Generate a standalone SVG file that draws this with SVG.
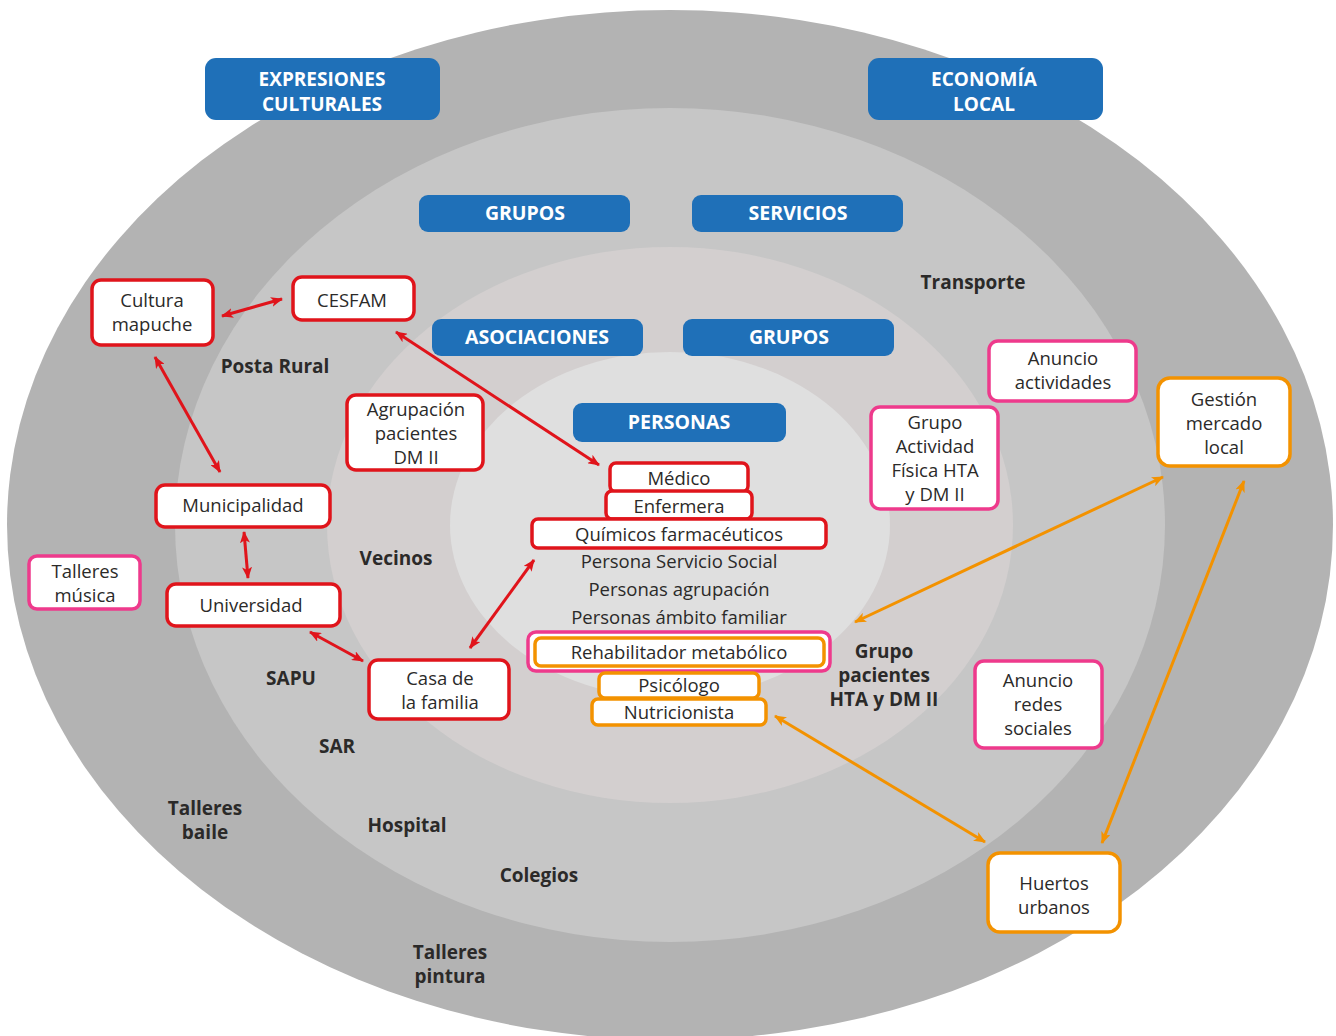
<svg xmlns="http://www.w3.org/2000/svg" width="1336" height="1036" viewBox="0 0 1336 1036">
<defs>
<style>
.t{font-family:"Open Sans","Noto Sans",sans-serif;font-size:18.5px;fill:#2b2a29;text-anchor:middle}
.b{font-family:"Open Sans","Noto Sans",sans-serif;font-size:19px;font-weight:bold;fill:#2b2a29;text-anchor:middle}
.h{font-family:"Open Sans","Noto Sans",sans-serif;font-size:19.5px;font-weight:bold;fill:#ffffff;text-anchor:middle}
.h2{font-family:"Open Sans","Noto Sans",sans-serif;font-size:19px;font-weight:bold;fill:#ffffff;text-anchor:middle}
.blue{fill:#1f70b8}
.red{fill:#fff;stroke:#e0141b;stroke-width:3.5}
.pink{fill:#fff;stroke:#ee3a8c;stroke-width:3.5}
.org{fill:#fff;stroke:#f39200;stroke-width:3.5}
.ar{stroke:#e0141b;stroke-width:3;fill:none;marker-start:url(#mr);marker-end:url(#mr)}
.ao{stroke:#f39200;stroke-width:3;fill:none;marker-start:url(#mo);marker-end:url(#mo)}
</style>
<marker id="mr" viewBox="0 0 12 10" refX="11" refY="5" markerWidth="12" markerHeight="10" markerUnits="userSpaceOnUse" orient="auto-start-reverse"><path d="M0,0 L12,5 L0,10 L3,5 Z" fill="#e0141b"/></marker>
<marker id="mo" viewBox="0 0 12 10" refX="11" refY="5" markerWidth="12" markerHeight="10" markerUnits="userSpaceOnUse" orient="auto-start-reverse"><path d="M0,0 L12,5 L0,10 L3,5 Z" fill="#f39200"/></marker>
</defs>
<rect width="1336" height="1036" fill="#ffffff"/>
<g id="rings">
<ellipse cx="670" cy="525" rx="663" ry="515" fill="#b3b3b3"/>
<ellipse cx="670" cy="525" rx="495" ry="417" fill="#c6c6c6"/>
<ellipse cx="670" cy="525" rx="343" ry="278" fill="#d3cfcf"/>
<ellipse cx="670" cy="525" rx="220" ry="173" fill="#dfdfdf"/>
</g>
<g id="headers">
<g id="h-expresiones"><rect class="blue" x="205" y="58" width="235" height="62" rx="11"/><text class="h2" x="322" y="86">EXPRESIONES</text><text class="h2" x="322" y="111">CULTURALES</text></g>
<g id="h-economia"><rect class="blue" x="868" y="58" width="235" height="62" rx="11"/><text class="h2" x="984" y="86">ECONOMÍA</text><text class="h2" x="984" y="111">LOCAL</text></g>
<g id="h-grupos1"><rect class="blue" x="419" y="195" width="211" height="37" rx="9"/><text class="h" x="525" y="220">GRUPOS</text></g>
<g id="h-servicios"><rect class="blue" x="692" y="195" width="211" height="37" rx="9"/><text class="h" x="798" y="220">SERVICIOS</text></g>
<g id="h-asociaciones"><rect class="blue" x="432" y="319" width="211" height="37" rx="9"/><text class="h" x="537" y="344">ASOCIACIONES</text></g>
<g id="h-grupos2"><rect class="blue" x="683" y="319" width="211" height="37" rx="9"/><text class="h" x="789" y="344">GRUPOS</text></g>
<g id="h-personas"><rect class="blue" x="573" y="403" width="213" height="39" rx="9"/><text class="h" x="679" y="429">PERSONAS</text></g>
</g>
<g id="labels">
<text class="b" x="973" y="289">Transporte</text>
<text class="b" x="275" y="373">Posta Rural</text>
<text class="b" x="396" y="565">Vecinos</text>
<text class="b" x="291" y="685">SAPU</text>
<text class="b" x="337" y="753">SAR</text>
<text class="b" x="205" y="815">Talleres</text><text class="b" x="205" y="839">baile</text>
<text class="b" x="407" y="832">Hospital</text>
<text class="b" x="539" y="882">Colegios</text>
<text class="b" x="450" y="959">Talleres</text><text class="b" x="450" y="983">pintura</text>
<text class="b" x="884" y="658">Grupo</text><text class="b" x="884" y="682">pacientes</text><text class="b" x="884" y="706">HTA y DM II</text>
<text class="t" x="679" y="568">Persona Servicio Social</text>
<text class="t" x="679" y="596">Personas agrupación</text>
<text class="t" x="679" y="624">Personas ámbito familiar</text>
</g>
<g id="connectors">
<line class="ar" x1="222" y1="316" x2="282" y2="299"/>
<line class="ar" x1="155" y1="357" x2="220" y2="472"/>
<line class="ar" x1="244" y1="532" x2="248" y2="578"/>
<line class="ar" x1="310" y1="632" x2="363" y2="661"/>
<line class="ar" x1="396" y1="332" x2="599" y2="465"/>
<line class="ar" x1="470" y1="648" x2="534" y2="560"/>
<line class="ao" x1="1163" y1="477" x2="855" y2="622"/>
<line class="ao" x1="1244" y1="481" x2="1102" y2="843"/>
<line class="ao" x1="775" y1="716" x2="985" y2="842"/>
</g>
<g id="n-cultura"><rect class="red" x="92" y="280" width="121" height="65" rx="9"/><text class="t" x="152" y="307">Cultura</text><text class="t" x="152" y="331">mapuche</text></g>
<g id="n-cesfam"><rect class="red" x="293" y="277" width="121" height="43" rx="9"/><text class="t" x="352" y="307">CESFAM</text></g>
<g id="n-agrupacion"><rect class="red" x="347" y="395" width="136" height="75" rx="9"/><text class="t" x="416" y="416">Agrupación</text><text class="t" x="416" y="440">pacientes</text><text class="t" x="416" y="464">DM II</text></g>
<g id="n-municipalidad"><rect class="red" x="156" y="485" width="174" height="42" rx="9"/><text class="t" x="243" y="512">Municipalidad</text></g>
<g id="n-universidad"><rect class="red" x="167" y="584" width="173" height="42" rx="9"/><text class="t" x="251" y="612">Universidad</text></g>
<g id="n-casa"><rect class="red" x="369" y="660" width="140" height="59" rx="9"/><text class="t" x="440" y="685">Casa de</text><text class="t" x="440" y="709">la familia</text></g>
<g id="n-medico"><rect class="red" x="610" y="463" width="138" height="29" rx="6"/><text class="t" x="679" y="485">Médico</text></g>
<g id="n-enfermera"><rect class="red" x="606" y="491" width="146" height="28" rx="6"/><text class="t" x="679" y="513">Enfermera</text></g>
<g id="n-quimicos"><rect class="red" x="532" y="519" width="294" height="29" rx="6"/><text class="t" x="679" y="541">Químicos farmacéuticos</text></g>
<g id="n-rehab"><rect class="pink" x="528" y="632" width="302" height="39" rx="8"/><rect class="org" x="535" y="638" width="289" height="28" rx="6"/><text class="t" x="679" y="659">Rehabilitador metabólico</text></g>
<g id="n-psicologo"><rect class="org" x="599" y="673" width="160" height="25" rx="6"/><text class="t" x="679" y="692">Psicólogo</text></g>
<g id="n-nutricionista"><rect class="org" x="592" y="699" width="174" height="26" rx="6"/><text class="t" x="679" y="719">Nutricionista</text></g>
<g id="n-talleres-musica"><rect class="pink" x="29" y="556" width="111" height="53" rx="8"/><text class="t" x="85" y="578">Talleres</text><text class="t" x="85" y="602">música</text></g>
<g id="n-anuncio-act"><rect class="pink" x="989" y="341" width="147" height="60" rx="9"/><text class="t" x="1063" y="365">Anuncio</text><text class="t" x="1063" y="389">actividades</text></g>
<g id="n-grupo-af"><rect class="pink" x="871" y="407" width="127" height="102" rx="9"/><text class="t" x="935" y="429">Grupo</text><text class="t" x="935" y="453">Actividad</text><text class="t" x="935" y="477">Física HTA</text><text class="t" x="935" y="501">y DM II</text></g>
<g id="n-anuncio-redes"><rect class="pink" x="975" y="661" width="127" height="87" rx="9"/><text class="t" x="1038" y="687">Anuncio</text><text class="t" x="1038" y="711">redes</text><text class="t" x="1038" y="735">sociales</text></g>
<g id="n-gestion"><rect class="org" x="1158" y="378" width="132" height="88" rx="12"/><text class="t" x="1224" y="406">Gestión</text><text class="t" x="1224" y="430">mercado</text><text class="t" x="1224" y="454">local</text></g>
<g id="n-huertos"><rect class="org" x="988" y="853" width="132" height="79" rx="12"/><text class="t" x="1054" y="890">Huertos</text><text class="t" x="1054" y="914">urbanos</text></g>
</svg>
